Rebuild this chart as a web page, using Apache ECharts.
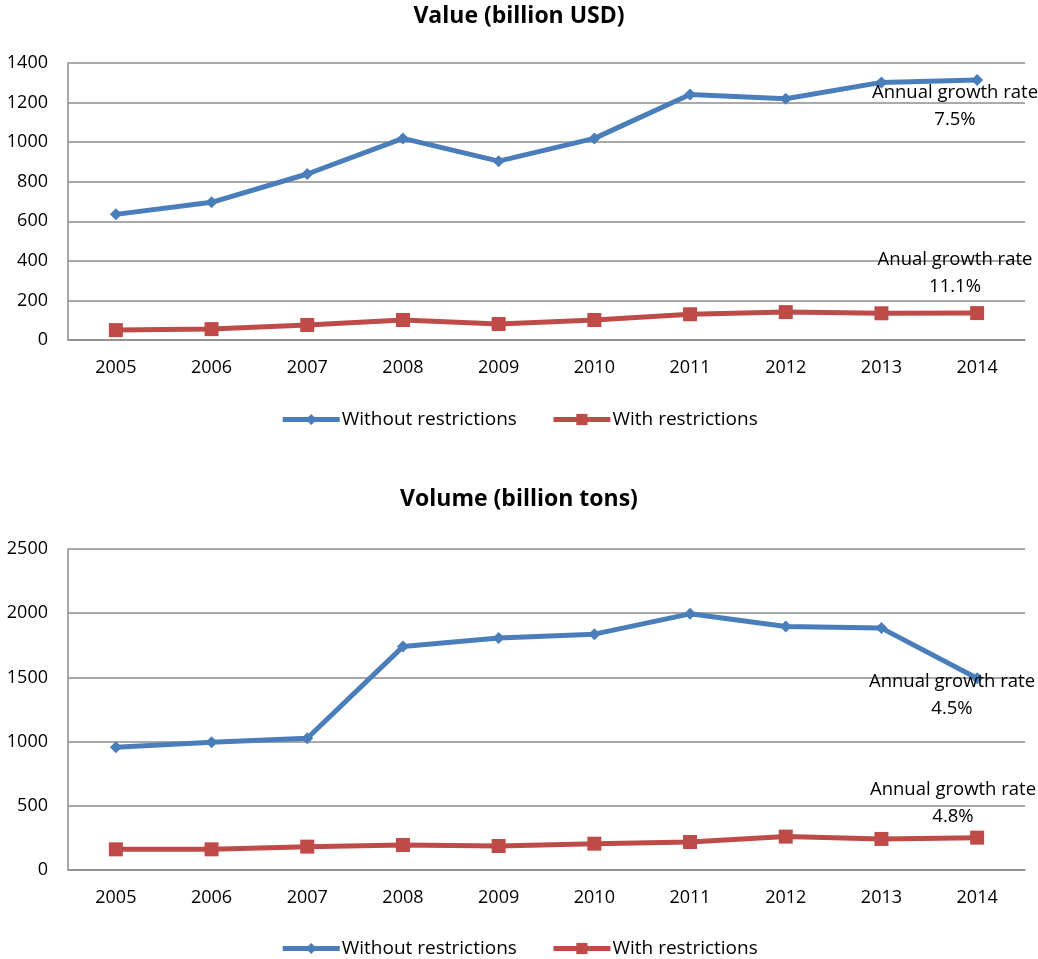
<!DOCTYPE html>
<html lang="en">
<head>
    <meta charset="UTF-8">
    <title>Value and volume</title>
    <script type="text/javascript" src="https://cdn.jsdelivr.net/npm/echarts@6/dist/echarts.min.js"></script>
</head>
<body style="margin:0;background:#fff;">
    <div id="chart" style="width:1038px;height:959px;"></div>
</body>
<script type="text/javascript">
    var years = ['2005', '2006', '2007', '2008', '2009', '2010', '2011', '2012', '2013', '2014'];

    // top chart: value (billion USD)
    var valueWithout = [635, 696, 839, 1019, 904, 1019, 1241, 1219, 1302, 1314];
    var valueWith = [50, 55, 76, 101, 81, 101, 130, 141, 135, 136];

    // bottom chart: volume (billion tons)
    var volumeWithout = [956, 995, 1026, 1740, 1806, 1837, 1995, 1896, 1884, 1494];
    var volumeWith = [161, 161, 182, 195, 187, 205, 218, 260, 242, 252];

    var names = ['Without restrictions', 'With restrictions'];
    var notes = [
        ['Annual growth rate', '7.5%'],
        ['Anual growth rate', '11.1%'],
        ['Annual growth rate', '4.5%'],
        ['Annual growth rate', '4.8%']
    ];

    var FONT = 'Open Sans';
    var BLUE = '#4a7ebb';
    var RED = '#be4b48';
    var GRID_GREY = '#8c8c8c';

    var myChart = echarts.init(document.getElementById('chart'));

    function xAxisFor(idx) {
        return {
            type: 'category',
            gridIndex: idx,
            data: years,
            boundaryGap: true,
            axisLine: {lineStyle: {color: GRID_GREY, width: 1.5}},
            axisTick: {show: false},
            axisLabel: {color: '#000', fontFamily: FONT, fontSize: 18, margin: 19}
        };
    }

    function yAxisFor(idx, max, step) {
        return {
            type: 'value',
            gridIndex: idx,
            min: 0,
            max: max,
            interval: step,
            axisLine: {show: true, lineStyle: {color: GRID_GREY, width: 1.5}},
            axisTick: {show: false},
            splitLine: {lineStyle: {color: GRID_GREY, width: 1.5}},
            axisLabel: {
                color: '#000', fontFamily: FONT, fontSize: 18, margin: 20,
                formatter: function (v) { return String(v); }
            }
        };
    }

    function lineSeries(name, idx, data, color, symbol, size) {
        return {
            name: name,
            type: 'line',
            xAxisIndex: idx,
            yAxisIndex: idx,
            data: data,
            symbol: symbol,
            symbolSize: size,
            showSymbol: true,
            lineStyle: {color: color, width: 5},
            itemStyle: {color: color},
            animation: false
        };
    }

    function legendAt(top) {
        return {
            data: names,
            top: top,
            left: 'center',
            itemWidth: 57,
            itemHeight: 14,
            itemGap: 34,
            selectedMode: false,
            lineStyle: {width: 5},
            textStyle: {color: '#000', fontFamily: FONT, fontSize: 19, padding: [0, 0, 0, -3]}
        };
    }

    function noteText(lines, cx, cy) {
        return {
            type: 'text',
            x: cx,
            y: cy,
            style: {
                text: lines.join('\n'),
                fill: '#000',
                font: '18.5px "' + FONT + '"',
                align: 'center',
                verticalAlign: 'middle',
                lineHeight: 27
            },
            z: 10
        };
    }

    var titleStyle = {fontFamily: FONT, fontSize: 23, fontWeight: 'bold', color: '#000'};

    var options = {
        backgroundColor: '#fff',
        title: [
            {text: 'Value (billion USD)', left: 'center', top: 0, textStyle: titleStyle},
            {text: 'Volume (billion tons)', left: 'center', top: 483, textStyle: titleStyle}
        ],
        legend: [legendAt(405), legendAt(934)],
        grid: [
            {left: 68, right: 13, top: 63, height: 277},
            {left: 68, right: 13, top: 549, height: 321}
        ],
        xAxis: [xAxisFor(0), xAxisFor(1)],
        yAxis: [yAxisFor(0, 1400, 200), yAxisFor(1, 2500, 500)],
        series: [
            lineSeries(names[0], 0, valueWithout, BLUE, 'diamond', 12),
            lineSeries(names[1], 0, valueWith, RED, 'rect', 14),
            lineSeries(names[0], 1, volumeWithout, BLUE, 'diamond', 12),
            lineSeries(names[1], 1, volumeWith, RED, 'rect', 14)
        ],
        graphic: [
            noteText(notes[0], 955, 106),
            noteText(notes[1], 955, 273),
            noteText(notes[2], 952, 695),
            noteText(notes[3], 953, 803)
        ]
    };
    myChart.setOption(options);
</script>
</html>
